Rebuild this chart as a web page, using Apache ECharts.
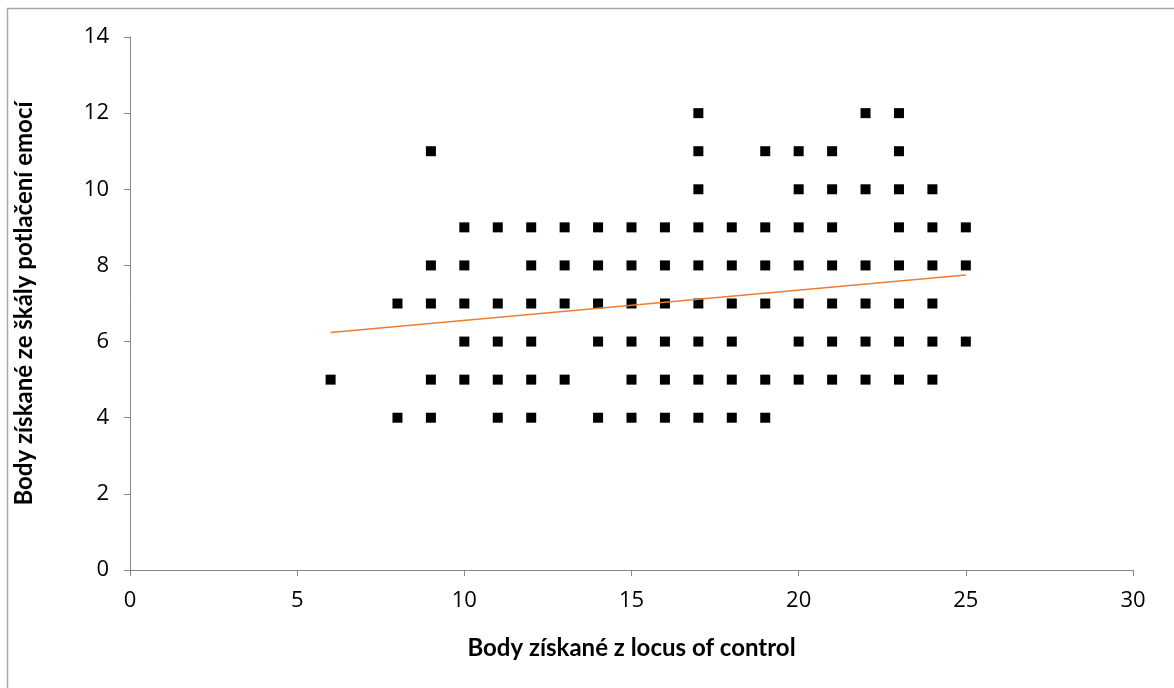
<!DOCTYPE html>
<html>
<head>
<meta charset="utf-8">
<script src="https://cdn.jsdelivr.net/npm/echarts@6/dist/echarts.min.js"></script>
<style>
html, body { margin: 0; padding: 0; background: #fff; }
#chart { width: 1174px; height: 688px; }
</style>
</head>
<body>
<div id="chart"></div>
<script>
// body získané (x) a jejich hodnoty y pro každý sloupec
var xValues = [6, 8, 9, 10, 11, 12, 13, 14, 15, 16, 17, 18, 19, 20, 21, 22, 23, 24, 25];
var yByX = [
    [5],
    [7, 4],
    [11, 8, 7, 5, 4],
    [9, 8, 7, 6, 5],
    [9, 7, 6, 5, 4],
    [9, 8, 7, 6, 5, 4],
    [9, 8, 7, 5],
    [9, 8, 7, 6, 4],
    [9, 8, 7, 6, 5, 4],
    [9, 8, 7, 6, 5, 4],
    [12, 11, 10, 9, 8, 7, 6, 5, 4],
    [9, 8, 7, 6, 5, 4],
    [11, 9, 8, 7, 5, 4],
    [11, 10, 9, 8, 7, 6, 5],
    [11, 10, 9, 8, 7, 6, 5],
    [12, 10, 8, 7, 6, 5],
    [12, 11, 10, 9, 8, 7, 6, 5],
    [10, 9, 8, 7, 6, 5],
    [9, 8, 6]
];
// lineární trend
var trendX = [6, 25];
var trendY = [6.24, 7.75];

var points = [];
for (var i = 0; i < xValues.length; i++) {
    for (var j = 0; j < yByX[i].length; j++) {
        points.push([xValues[i], yByX[i][j]]);
    }
}
var trend = [];
for (var k = 0; k < trendX.length; k++) {
    trend.push([trendX[k], trendY[k]]);
}

var myChart = echarts.init(document.getElementById('chart'));
var axisColor = '#868686';
var titleFont = 'Lato, "Open Sans", sans-serif';
var tickFont = '"Open Sans", Lato, sans-serif';

var option = {
    animation: false,
    backgroundColor: '#fff',
    graphic: [{
        type: 'rect',
        shape: { x: 7.5, y: 8.5, width: 1200, height: 700 },
        style: { fill: 'none', stroke: '#a6a6a6', lineWidth: 1.5 },
        silent: true
    }],
    grid: { left: 130, right: 41, top: 37, bottom: 118 },
    xAxis: {
        type: 'value',
        min: 0, max: 30, interval: 5,
        name: 'Body získané z locus of control',
        nameLocation: 'middle',
        nameGap: 66,
        nameTextStyle: { fontFamily: titleFont, fontSize: 24, fontWeight: 'bold', color: '#000' },
        axisLine: { show: true, lineStyle: { color: axisColor, width: 1 } },
        axisTick: { show: true, length: 6, lineStyle: { color: axisColor } },
        axisLabel: { fontFamily: tickFont, fontSize: 22, color: '#000', margin: 20 },
        splitLine: { show: false }
    },
    yAxis: {
        type: 'value',
        min: 0, max: 14, interval: 2,
        name: 'Body získané ze škály potlačení emocí',
        nameLocation: 'middle',
        nameGap: 94,
        nameTextStyle: { fontFamily: titleFont, fontSize: 24, fontWeight: 'bold', color: '#000' },
        axisLine: { show: true, lineStyle: { color: axisColor, width: 1 } },
        axisTick: { show: true, length: 6, lineStyle: { color: axisColor } },
        axisLabel: { fontFamily: tickFont, fontSize: 22, color: '#000', margin: 21 },
        splitLine: { show: false }
    },
    series: [
        {
            type: 'scatter',
            data: points,
            symbol: 'rect',
            symbolSize: 10,
            itemStyle: { color: '#000', opacity: 1 }
        },
        {
            type: 'line',
            data: trend,
            symbol: 'none',
            lineStyle: { color: '#ED7D31', width: 1.5 },
            z: 3
        }
    ]
};

option && myChart.setOption(option);
</script>
</body>
</html>
